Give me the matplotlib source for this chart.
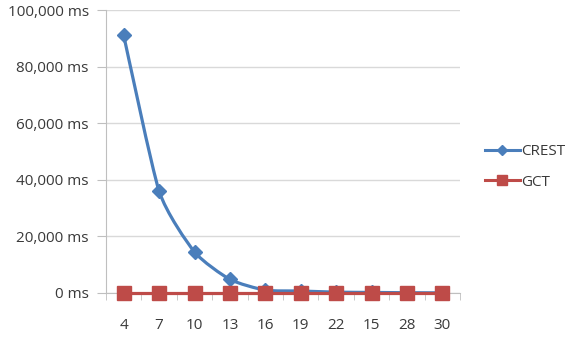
import numpy as np
import matplotlib
matplotlib.use("Agg")
import matplotlib.pyplot as plt
from matplotlib.path import Path
from matplotlib.patches import PathPatch
from matplotlib.lines import Line2D
from matplotlib.ticker import FuncFormatter, MultipleLocator

plt.rcParams['font.family'] = ['Open Sans', 'DejaVu Sans']

categories = ["4", "7", "10", "13", "16", "19", "22", "15", "28", "30"]
crest = [91000, 36000, 14500, 4800, 1000, 700, 300, 200, 100, 50]
gct = [0, 0, 0, 0, 0, 0, 0, 0, 0, 0]

blue = "#4A7EBB"
red = "#BE4B48"
text_col = "#3A3A3A"


# Excel-style smoothed line: cardinal spline drawn as cubic bezier segments
def smooth_path(xs, ys, tension=0.5):
    pts = np.column_stack([xs, ys]).astype(float)
    verts = [pts[0]]
    codes = [Path.MOVETO]
    n = len(pts)
    for i in range(n - 1):
        p0 = pts[max(i - 1, 0)]
        p1 = pts[i]
        p2 = pts[i + 1]
        p3 = pts[min(i + 2, n - 1)]
        c1 = p1 + (p2 - p0) * tension / 3
        c2 = p2 - (p3 - p1) * tension / 3
        verts += [c1, c2, p2]
        codes += [Path.CURVE4] * 3
    return Path(verts, codes)


fig = plt.figure(figsize=(5.74, 3.39), dpi=100)
ax = fig.add_axes([106 / 574, 1 - 293 / 339, 354 / 574, 283 / 339])

x = np.arange(len(categories))

ax.add_patch(PathPatch(smooth_path(x, crest, 0.3), fill=False,
                       edgecolor=blue, lw=2.3, zorder=3))
ax.plot(x, crest, linestyle="none", marker="D", markersize=7.5,
        color=blue, zorder=4, clip_on=False)
ax.plot(x, gct, color=red, lw=2.3, marker="s", markersize=9.5, zorder=5,
        clip_on=False)

ax.set_xlim(-0.5, len(categories) - 0.5)
ax.set_ylim(0, 100000)
ax.set_xticks(x)
ax.set_xticklabels(categories)
ax.set_xticks(np.arange(-0.5, len(categories)), minor=True)
ax.tick_params(axis="x", which="major", length=0, pad=18, labelsize=11,
               labelcolor=text_col)
ax.tick_params(axis="x", which="minor", length=5, color="#BFBFBF")
ax.yaxis.set_major_locator(MultipleLocator(20000))
ax.yaxis.set_major_formatter(FuncFormatter(lambda v, p: f"{int(v):,} ms"))
ax.tick_params(axis="y", length=6.5, color="#BFBFBF", labelsize=11,
               labelcolor=text_col, pad=6)

ax.grid(axis="y", color="#D9D9D9", lw=1)
ax.set_axisbelow(True)
for s in ["top", "right"]:
    ax.spines[s].set_visible(False)
for s in ["left", "bottom"]:
    ax.spines[s].set_color("#BFBFBF")

handles = [
    Line2D([], [], color=blue, lw=2.2, marker="D", markersize=5),
    Line2D([], [], color=red, lw=2.2, marker="s", markersize=7),
]
fig.legend(handles, ["CREST", "GCT"], loc="center left",
           bbox_to_anchor=(471 / 574, 1 - 167 / 339), frameon=False,
           fontsize=11, handlelength=2.3, handletextpad=0.1,
           labelspacing=1.0, labelcolor=text_col)

fig.savefig("out.png", dpi=100)
